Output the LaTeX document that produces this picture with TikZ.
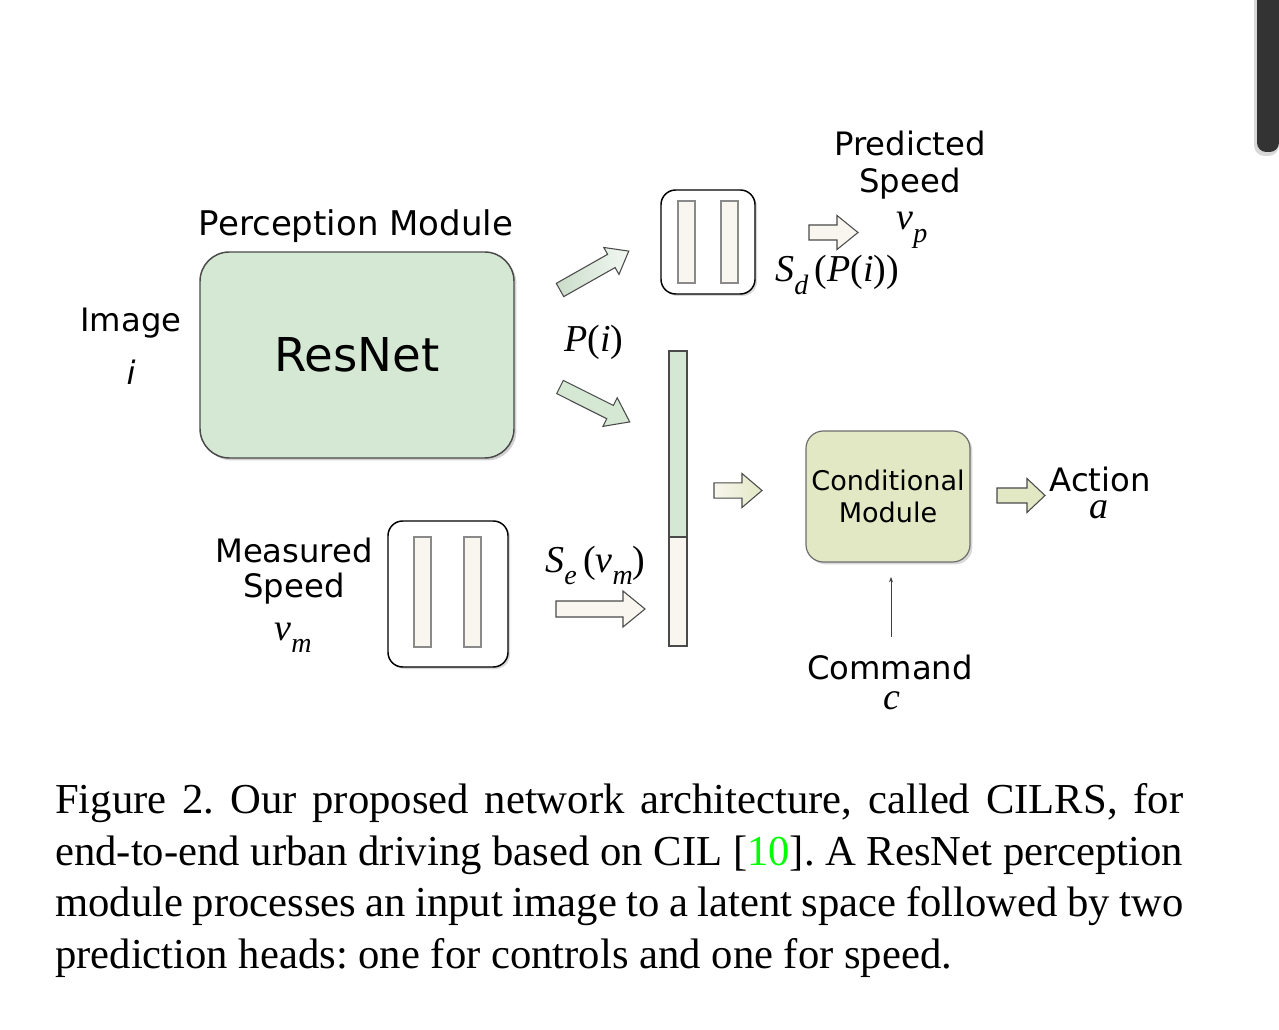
\documentclass[tikz,border=0pt]{standalone}
\usepackage{fontspec}
\setmainfont{Liberation Serif}
\newfontfamily\sansf{DejaVu Sans}
\newfontfamily\tms{Liberation Serif}
\usetikzlibrary{shadows,arrows.meta}
\definecolor{resgreen}{HTML}{D5E8D4}
\definecolor{condcol}{HTML}{E2E8C4}
\definecolor{offwhite}{HTML}{F8F6EE}
\definecolor{edgegray}{HTML}{4A4A4A}
\definecolor{bargray}{HTML}{8A8A8A}
\definecolor{scrollcol}{HTML}{333333}
\definecolor{citegreen}{HTML}{00FF00}
\newcommand{\mi}[1]{{\tms\itshape #1}}
\newcommand{\msub}[1]{\raisebox{-0.34em}{\fontsize{21}{21}\selectfont\tms\itshape #1}}
\newcommand{\blockarrow}[8]{%
  \begin{scope}[shift={(#2,#3)},rotate=#4]
    \draw[#1] (0,-#6) -- ({#5-#8},-#6) -- ({#5-#8},-#7) -- (#5,0) -- ({#5-#8},#7) -- ({#5-#8},#6) -- (0,#6) -- cycle;
  \end{scope}}
\begin{document}
\begin{tikzpicture}[x=0.75pt,y=-0.75pt,
  lbl/.style={font=\sansf\fontsize{24.2}{24.2}\selectfont, inner sep=0pt, anchor=base},
  mlbl/.style={font=\fontsize{28.5}{28.5}\selectfont, inner sep=0pt, anchor=base},
  bigbox/.style={draw=edgegray, line width=1.1pt, rounded corners=22pt, fill=resgreen,
     drop shadow={shadow xshift=1.8pt, shadow yshift=-1.8pt, opacity=0.35, fill=gray}},
  condbox/.style={draw=edgegray!80, line width=0.9pt, rounded corners=13pt, fill=condcol,
     drop shadow={shadow xshift=1.8pt, shadow yshift=-1.8pt, opacity=0.3, fill=gray}},
  fcbox/.style={draw=black, line width=1.1pt, rounded corners=11pt, fill=white,
     drop shadow={shadow xshift=1.5pt, shadow yshift=-1.5pt, opacity=0.3, fill=gray}},
  innerbar/.style={draw=bargray, line width=0.8pt, fill=offwhite},
  featbar/.style={draw=edgegray, line width=1pt},
  garrow/.style={draw=edgegray, line width=0.8pt, left color=resgreen!95!black, right color=resgreen!30!white},
  garrowb/.style={draw=edgegray, line width=0.8pt, fill=resgreen},
  warrow/.style={draw=edgegray, line width=0.8pt, fill=offwhite},
  yarrow/.style={draw=edgegray, line width=0.8pt, left color=offwhite, right color=condcol},
  carrow/.style={draw=edgegray, line width=0.8pt, fill=condcol},
  thinarrow/.style={draw=black!75, line width=0.5pt, -{Stealth[length=4pt,width=3pt]}},
  scroll/.style={fill=scrollcol}
]
\useasboundingbox (0,0) rectangle (1279,1030);
\fill[white] (0,0) rectangle (1279,1030);

% scrollbar
\fill[gray!60, opacity=0.5] (1279,0) -- (1254,0) [rounded corners=8pt] -- (1254,156) -- (1279,156) [sharp corners] -- cycle;
\fill[scroll] (1279,0) -- (1257,0) [rounded corners=7pt] -- (1257,152) -- (1279,152) [sharp corners] -- cycle;

% perception module
\node[lbl, font=\sansf\fontsize{25.5}{25.5}\selectfont] (permod) at (356,236) {Perception Module};
\node[bigbox, minimum width=235.5pt, minimum height=154.5pt, font=\sansf\fontsize{35}{35}\selectfont] (resnet) at (357,355) {ResNet};

% image input
\node[lbl] (img) at (131,332) {Image};
\node[lbl, font=\sansf\itshape\fontsize{24.2}{24.2}\selectfont] (imgi) at (131,385) {i};

% speed decoder box
\node[fcbox, minimum width=70.5pt, minimum height=78pt] (sdbox) at (708,242) {};
\draw[innerbar] (678,201) rectangle (695,283);
\draw[innerbar] (721,201) rectangle (738,283);

% measured speed encoder box
\node[fcbox, minimum width=90pt, minimum height=109.5pt] (sebox) at (448,594) {};
\draw[innerbar] (414,537) rectangle (431,647);
\draw[innerbar] (464,537) rectangle (481,647);

% feature vector
\draw[featbar, fill=resgreen] (669,351) rectangle (687,537);
\draw[featbar, fill=offwhite] (669,537) rectangle (687,646);
\coordinate (feat) at (678,498);

% conditional module
\node[condbox, minimum width=123pt, minimum height=98.25pt, align=center,
      font=\sansf\fontsize{20.3}{24}\selectfont] (cond) at (888,496.5) {Conditional\\Module};

% block arrows
\blockarrow{garrow}{560}{290}{29.5}{79}{7.6}{15.5}{20}
\blockarrow{garrowb}{560}{387}{-26.6}{78}{7.4}{16}{22}
\blockarrow{yarrow}{714}{490.5}{0}{48}{7.7}{17}{20}
\blockarrow{warrow}{809}{232.5}{0}{49}{7.5}{17}{21}
\blockarrow{warrow}{556}{609}{0}{89}{8}{18}{22}
\blockarrow{carrow}{997}{495.5}{0}{48}{7.5}{17}{18}

% labels
\node[mlbl] (pi) at (594,352) {\mi{P}(\mi{i})};
\node[lbl] (pred1) at (910,156) {Predicted};
\node[lbl] (pred2) at (910,193) {Speed};
\node[mlbl] (vp) at (912,230) {\mi{v}\msub{p}};
\node[mlbl, anchor=base west] (sdlbl) at (775,282) {\mi{S}\msub{d}\,(\mi{P}(\mi{i}))};
\node[lbl] (meas1) at (294,562) {Measured};
\node[lbl] (meas2) at (294,598) {Speed};
\node[mlbl] (vm) at (293,640) {\mi{v}\msub{m}};
\node[mlbl, anchor=base west] (selbl) at (545,572) {\mi{S}\msub{e}\,(\mi{v}\msub{m})};
\node[lbl] (act) at (1100,492) {Action};
\node[mlbl] (acta) at (1099,519) {\mi{a}};
\node[lbl] (cmd) at (890,679) {Command};
\node[mlbl] (cmdc) at (892,709) {\mi{c}};

% command arrow
\coordinate (cmdtop) at (891,637);
\coordinate (condin) at (891,577);
\draw[thinarrow] (cmdtop) -- (condin);

% caption
\node[anchor=north west, inner sep=0pt, text width=846pt, align=justify,
      font=\fontsize{32}{38.8}\selectfont] (caption) at (55,783)
{\frenchspacing\hyphenpenalty=10000\tolerance=10000 Figure 2. Our proposed network architecture, called CILRS, for\linebreak
end-to-end urban driving based on CIL [\textcolor{citegreen}{10}]. A ResNet perception\linebreak
module processes an input image to a latent space followed by two\linebreak
prediction heads: one for controls and one for speed.};
\end{tikzpicture}
\end{document}
